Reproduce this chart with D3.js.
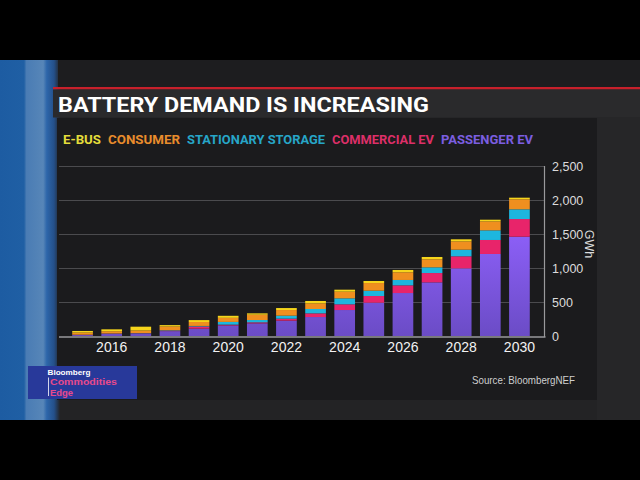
<!DOCTYPE html>
<html><head><meta charset="utf-8">
<script src="https://cdn.jsdelivr.net/npm/d3@7"></script>
<style>html,body{margin:0;padding:0;background:#000;} svg{display:block}</style>
</head><body><svg id="c" width="640" height="480"></svg>
<script>
// ---- data ----
const years = [2015,2016,2017,2018,2019,2020,2021,2022,2023,2024,2025,2026,2027,2028,2029,2030];
const passengerEV       = [14, 30, 34, 72, 108, 155, 186, 226, 279, 382, 490, 632, 789, 995, 1206, 1460];
const commercialEV      = [3, 5, 6, 7, 32, 12, 15, 29, 54, 84, 98, 113, 137, 177, 206, 260];
const stationaryStorage = [2, 3, 4, 6, 8, 40, 34, 44, 64, 88, 78, 79, 84, 97, 142, 143];
const consumer          = [32, 32, 38, 55, 58, 60, 78, 83, 83, 98, 113, 113, 118, 123, 132, 147];
const eBus              = [23, 28, 55, 20, 28, 30, 20, 29, 35, 29, 30, 34, 34, 30, 24, 24];
const seriesKeys  = ["passenger", "commercial", "stationary", "consumer", "ebus"];
const legendLabels = ["E-BUS", "CONSUMER", "STATIONARY STORAGE", "COMMERCIAL EV", "PASSENGER EV"];
const yTicks = [0, 500, 1000, 1500, 2000, 2500];
const xTickYears = [2016, 2018, 2020, 2022, 2024, 2026, 2028, 2030];
const titleText = "BATTERY DEMAND IS INCREASING";
const unitLabel = "GWh";
const sourceText = "Source: BloombergNEF";

const rows = years.map((y, i) => ({
  year: y, passenger: passengerEV[i], commercial: commercialEV[i],
  stationary: stationaryStorage[i], consumer: consumer[i], ebus: eBus[i]
}));

const colors = {passenger: "url(#purpleGrad)", commercial: "#e8246a", stationary: "#1db6de", consumer: "#ef8f1f", ebus: "#f6d51c"};
const legendColors = {"E-BUS": "#e4dc3a", "CONSUMER": "#e98c2c", "STATIONARY STORAGE": "#27a6c8", "COMMERCIAL EV": "#dd2f68", "PASSENGER EV": "#7b5ee0"};

const svg = d3.select("#c");
const defs = svg.append("defs");

// ---- background ----
svg.append("rect").attr("width", 640).attr("height", 480).attr("fill", "#000");
svg.append("rect").attr("x", 0).attr("y", 60).attr("width", 640).attr("height", 360).attr("fill", "#232325");
const bg = defs.append("linearGradient").attr("id", "blueStrip").attr("x1", 0).attr("x2", 1).attr("y1", 0).attr("y2", 0);
[[0, "#1d5ca2"], [0.40, "#1f5fa4"], [0.44, "#4a7cb4"], [0.72, "#5786b8"], [0.78, "#2d66aa"], [0.9, "#24508a"], [1, "#232325"]]
  .forEach(([o, c]) => bg.append("stop").attr("offset", o).attr("stop-color", c));
svg.append("rect").attr("x", 0).attr("y", 60).attr("width", 60).attr("height", 360).attr("fill", "url(#blueStrip)");
svg.append("rect").attr("x", 58).attr("y", 60).attr("width", 582).attr("height", 28).attr("fill", "#1d1d1f");
// panel
svg.append("rect").attr("x", 57).attr("y", 118).attr("width", 540).attr("height", 282).attr("fill", "#1b1b1d");
svg.append("rect").attr("x", 597).attr("y", 118).attr("width", 43).attr("height", 302).attr("fill", "#262628");

// title bar
svg.append("rect").attr("x", 53).attr("y", 87).attr("width", 587).attr("height", 2.5).attr("fill", "#c8202b");
svg.append("rect").attr("x", 53).attr("y", 89.5).attr("width", 587).attr("height", 28).attr("fill", "#2a2a2c");
svg.append("text").attr("x", 58).attr("y", 112).text(titleText)
  .attr("fill", "#fff").attr("font-family", "Roboto, 'Liberation Sans', Arial, sans-serif")
  .attr("font-weight", 700).attr("font-size", 21)
  .attr("textLength", 371).attr("lengthAdjust", "spacingAndGlyphs");

// legend
const legendX = [63, 108, 187, 332, 441];
const legendW = [38, 72, 138, 102, 92];
legendLabels.forEach((l, i) => {
  svg.append("text").attr("x", legendX[i]).attr("y", 143.5).text(l)
    .attr("fill", legendColors[l]).attr("font-family", "Roboto, 'Liberation Sans', Arial, sans-serif")
    .attr("font-weight", 700).attr("font-size", 13)
    .attr("textLength", legendW[i]).attr("lengthAdjust", "spacingAndGlyphs");
});

// ---- scales ----
const x = d3.scaleBand().domain(years).range([68, 534]).paddingInner(0.29).paddingOuter(0.145);
const y = d3.scaleLinear().domain([0, 2500]).range([336, 166]);

const pg = defs.append("linearGradient").attr("id", "purpleGrad").attr("gradientUnits", "userSpaceOnUse")
  .attr("x1", 0).attr("x2", 0).attr("y1", y(1500)).attr("y2", y(0));
pg.append("stop").attr("offset", 0).attr("stop-color", "#8c5ff7");
pg.append("stop").attr("offset", 1).attr("stop-color", "#6b4cc6");

// gridlines
svg.append("g").selectAll("line").data(yTicks.filter(d => d > 0)).join("line")
  .attr("x1", 59).attr("x2", 544).attr("y1", d => y(d) + 0.5).attr("y2", d => y(d) + 0.5)
  .attr("stroke", "#4b4b4e").attr("stroke-width", 1);

// bars
const stack = d3.stack().keys(seriesKeys)(rows);
svg.append("g").selectAll("g").data(stack).join("g")
  .attr("fill", d => colors[d.key])
  .selectAll("rect").data(d => d).join("rect")
  .attr("x", d => x(d.data.year)).attr("width", x.bandwidth())
  .attr("y", d => y(d[1])).attr("height", d => y(d[0]) - y(d[1]));

// axes frame
svg.append("line").attr("x1", 59).attr("x2", 545.5).attr("y1", 337).attr("y2", 337).attr("stroke", "#9a9a9c").attr("stroke-width", 1.5);
svg.append("line").attr("x1", 544.5).attr("x2", 544.5).attr("y1", 166).attr("y2", 337).attr("stroke", "#9a9a9c").attr("stroke-width", 1.2);

// y axis labels
const yAxis = d3.axisRight(y).tickValues(yTicks).tickSize(0).tickPadding(7).tickFormat(d3.format(","));
const ya = svg.append("g").attr("transform", "translate(545,0)").call(yAxis);
ya.select(".domain").remove();
ya.selectAll("text").attr("fill", "#dcdcdc").attr("font-size", 12.5)
  .attr("font-family", "'Liberation Sans', Arial, sans-serif");

// x axis labels
const xAxis = d3.axisBottom(x).tickValues(xTickYears).tickSize(0).tickPadding(5);
const xa = svg.append("g").attr("transform", "translate(0,337)").call(xAxis);
xa.select(".domain").remove();
xa.selectAll("text").attr("fill", "#f2f2f2").attr("font-size", 14)
  .attr("font-family", "'Liberation Sans', Arial, sans-serif");

// unit
svg.append("text").attr("transform", "translate(585,244) rotate(90)").attr("text-anchor", "middle")
  .text(unitLabel).attr("fill", "#dcdcdc").attr("font-size", 12.5)
  .attr("font-family", "'Liberation Sans', Arial, sans-serif");

// source
svg.append("text").attr("x", 472).attr("y", 384).text(sourceText)
  .attr("fill", "#cfcfcf").attr("font-size", 11.5)
  .attr("font-family", "'Liberation Sans', Arial, sans-serif")
  .attr("textLength", 103).attr("lengthAdjust", "spacingAndGlyphs");

// logo
svg.append("rect").attr("x", 28).attr("y", 366).attr("width", 109).attr("height", 33).attr("fill", "#28399a");
svg.append("text").attr("x", 47.5).attr("y", 374.5).text("Bloomberg").attr("fill", "#fff")
  .attr("font-size", 8).attr("font-weight", 700).attr("font-family", "'Liberation Sans', Arial, sans-serif")
  .attr("textLength", 43).attr("lengthAdjust", "spacingAndGlyphs");
svg.append("line").attr("x1", 48.5).attr("x2", 48.5).attr("y1", 377.5).attr("y2", 396).attr("stroke", "#fff").attr("stroke-width", 0.8);
svg.append("text").attr("x", 50).attr("y", 385.3).text("Commodities").attr("fill", "#e84a8c")
  .attr("font-size", 9.5).attr("font-weight", 700).attr("font-family", "'Liberation Sans', Arial, sans-serif")
  .attr("textLength", 67).attr("lengthAdjust", "spacingAndGlyphs");
svg.append("text").attr("x", 50).attr("y", 395.9).text("Edge").attr("fill", "#e84a8c")
  .attr("font-size", 9.5).attr("font-weight", 700).attr("font-family", "'Liberation Sans', Arial, sans-serif")
  .attr("textLength", 23).attr("lengthAdjust", "spacingAndGlyphs");
</script></body></html>
